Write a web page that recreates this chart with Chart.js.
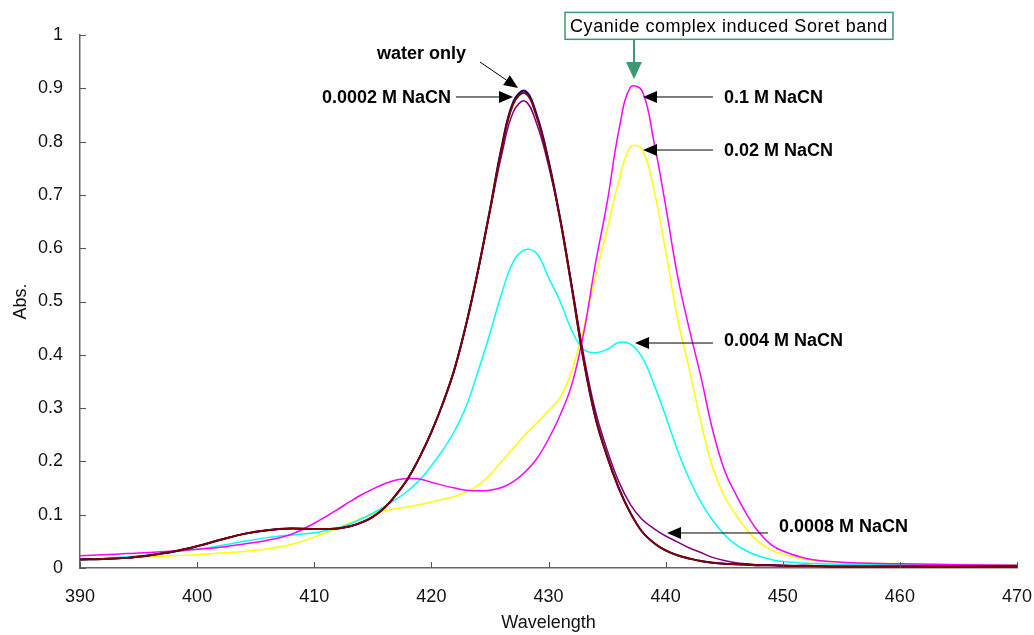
<!DOCTYPE html>
<html>
<head>
<meta charset="utf-8">
<title>Soret band absorbance</title>
<script src="https://cdn.jsdelivr.net/npm/chart.js@4.4.1/dist/chart.umd.min.js"></script>
<style>
  html, body { margin: 0; padding: 0; background: #fff; }
  #wrap { width: 1034px; height: 635px; }
</style>
</head>
<body>
<div id="wrap"><canvas id="spectra" width="1034" height="635"></canvas></div>
<script>
// wavelength grid (nm), denser around the Soret peaks
var wavelengths = [390, 392, 394, 396, 398, 400, 402, 404, 406, 408, 410, 412,
  413, 414, 415, 416, 417, 418, 419, 420, 421, 422, 423, 424, 425, 426, 427, 428, 429, 430,
  431, 432, 433, 434, 435, 436, 437, 438, 439, 440, 441, 442, 443, 444, 445, 446, 447, 448, 449, 450,
  452, 455, 460, 465, 470];

var waterOnly = [0.016, 0.017, 0.019, 0.024, 0.031, 0.041, 0.053, 0.064, 0.071, 0.074, 0.073, 0.074,
  0.078, 0.085, 0.096, 0.113, 0.138, 0.168, 0.208, 0.255, 0.31, 0.375, 0.46, 0.56, 0.672, 0.79, 0.875, 0.895, 0.85, 0.765,
  0.655, 0.525, 0.39, 0.283, 0.21, 0.15, 0.103, 0.068, 0.047, 0.033, 0.024, 0.018, 0.013, 0.010, 0.008, 0.007, 0.006, 0.005, 0.005, 0.004,
  0.004, 0.003, 0.003, 0.003, 0.003];

var nacn0002 = [0.016, 0.017, 0.019, 0.024, 0.031, 0.041, 0.053, 0.064, 0.071, 0.074, 0.073, 0.074,
  0.078, 0.085, 0.096, 0.113, 0.138, 0.168, 0.208, 0.255, 0.31, 0.375, 0.46, 0.56, 0.672, 0.787, 0.871, 0.891, 0.846, 0.762,
  0.653, 0.524, 0.39, 0.283, 0.21, 0.15, 0.103, 0.068, 0.047, 0.033, 0.024, 0.018, 0.013, 0.010, 0.008, 0.007, 0.006, 0.005, 0.005, 0.004,
  0.004, 0.003, 0.003, 0.003, 0.003];

var nacn0008 = [0.016, 0.017, 0.019, 0.024, 0.031, 0.041, 0.053, 0.064, 0.071, 0.074, 0.073, 0.074,
  0.078, 0.085, 0.096, 0.113, 0.138, 0.168, 0.208, 0.255, 0.31, 0.375, 0.46, 0.558, 0.668, 0.775, 0.856, 0.876, 0.833, 0.755,
  0.655, 0.53, 0.40, 0.295, 0.222, 0.162, 0.119, 0.091, 0.074, 0.06, 0.049, 0.038, 0.029, 0.02, 0.014, 0.010, 0.008, 0.006, 0.005, 0.005,
  0.004, 0.003, 0.003, 0.003, 0.003];

var nacn004 = [0.015, 0.018, 0.021, 0.025, 0.030, 0.035, 0.042, 0.050, 0.057, 0.062, 0.066, 0.075,
  0.082, 0.092, 0.103, 0.115, 0.129, 0.145, 0.165, 0.192, 0.222, 0.258, 0.305, 0.37, 0.44, 0.515, 0.575, 0.597, 0.59, 0.545,
  0.50, 0.445, 0.41, 0.404, 0.41, 0.423, 0.42, 0.395, 0.345, 0.285, 0.222, 0.168, 0.124, 0.09, 0.063, 0.044, 0.031, 0.022, 0.016, 0.012,
  0.009, 0.007, 0.006, 0.005, 0.005];

var nacn02 = [0.015, 0.017, 0.019, 0.021, 0.023, 0.025, 0.028, 0.031, 0.036, 0.044, 0.058, 0.075,
  0.084, 0.093, 0.101, 0.107, 0.111, 0.115, 0.119, 0.124, 0.129, 0.134, 0.143, 0.155, 0.175, 0.20, 0.225, 0.25, 0.272, 0.295,
  0.32, 0.37, 0.45, 0.545, 0.635, 0.725, 0.79, 0.785, 0.71, 0.595, 0.47, 0.375, 0.275, 0.19, 0.135, 0.10, 0.07, 0.048, 0.034, 0.026,
  0.016, 0.011, 0.008, 0.007, 0.006];

var nacn1 = [0.023, 0.025, 0.027, 0.029, 0.032, 0.035, 0.039, 0.045, 0.052, 0.063, 0.084, 0.110,
  0.124, 0.137, 0.148, 0.158, 0.165, 0.168, 0.167, 0.161, 0.155, 0.150, 0.146, 0.145, 0.146, 0.151, 0.162, 0.18, 0.205, 0.242,
  0.287, 0.345, 0.44, 0.57, 0.685, 0.82, 0.902, 0.895, 0.80, 0.68, 0.55, 0.45, 0.36, 0.26, 0.185, 0.138, 0.098, 0.066, 0.044, 0.032,
  0.018, 0.011, 0.008, 0.006, 0.005];

// callouts, anchored in data units (wavelength, absorbance)
var callouts = [
  { text: 'water only', x: 415.36, y: 0.9644, from: [424.15, 0.9493], to: [427.40, 0.9006] },
  { text: '0.0002 M NaCN', x: 410.66, y: 0.8818, from: [422.10, 0.8837], to: [426.97, 0.8837] },
  { text: '0.1 M NaCN', x: 444.98, y: 0.8824, from: [444.04, 0.8837], to: [438.07, 0.8837] },
  { text: '0.02 M NaCN', x: 444.98, y: 0.7829, from: [444.04, 0.7842], to: [438.07, 0.7842] },
  { text: '0.004 M NaCN', x: 444.98, y: 0.4265, from: [444.04, 0.4221], to: [437.39, 0.4221] },
  { text: '0.0008 M NaCN', x: 449.68, y: 0.0775, from: [448.74, 0.0657], to: [440.12, 0.0657] }
];
var soretNote = { text: 'Cyanide complex induced Soret band', x0: 431.41, x1: 459.41, y0: 1.0424, y1: 0.9919, tip: [437.30, 0.9174] };

function toPoints(values) {
  return values.map(function(v, i) { return { x: wavelengths[i], y: v }; });
}

function series(label, values, color, width) {
  return {
    label: label,
    data: toPoints(values),
    borderColor: color,
    borderWidth: width,
    pointRadius: 0,
    fill: false,
    tension: 0.4
  };
}

function drawArrow(ctx, x1, y1, x2, y2, color, lw, headLen, headHalf) {
  var a = Math.atan2(y2 - y1, x2 - x1);
  var c = Math.cos(a), s = Math.sin(a);
  ctx.strokeStyle = color;
  ctx.lineWidth = lw;
  ctx.beginPath();
  ctx.moveTo(x1, y1);
  ctx.lineTo(x2 - headLen * c, y2 - headLen * s);
  ctx.stroke();
  ctx.fillStyle = color;
  ctx.beginPath();
  ctx.moveTo(x2, y2);
  ctx.lineTo(x2 - headLen * c + headHalf * s, y2 - headLen * s - headHalf * c);
  ctx.lineTo(x2 - headLen * c - headHalf * s, y2 - headLen * s + headHalf * c);
  ctx.closePath();
  ctx.fill();
}

// short tick marks pointing into the plot
var inwardTicks = {
  id: 'inwardTicks',
  afterDraw: function(chart) {
    var ctx = chart.ctx, xs = chart.scales.x, ys = chart.scales.y;
    var area = chart.chartArea;
    ctx.save();
    ctx.strokeStyle = '#555';
    ctx.lineWidth = 1;
    ctx.beginPath();
    xs.ticks.forEach(function(t) {
      var px = Math.round(xs.getPixelForValue(t.value)) + 0.5;
      ctx.moveTo(px, area.bottom);
      ctx.lineTo(px, area.bottom - 6);
    });
    ys.ticks.forEach(function(t) {
      var py = Math.round(ys.getPixelForValue(t.value)) + 0.5;
      ctx.moveTo(area.left, py);
      ctx.lineTo(area.left + 6, py);
    });
    ctx.stroke();
    ctx.restore();
  }
};

var labelsPlugin = {
  id: 'callouts',
  afterDraw: function(chart) {
    var ctx = chart.ctx, xs = chart.scales.x, ys = chart.scales.y;
    ctx.save();
    ctx.font = 'bold 18px "Liberation Sans", Arial, sans-serif';
    ctx.textBaseline = 'middle';
    ctx.textAlign = 'left';
    callouts.forEach(function(c) {
      ctx.fillStyle = '#000';
      ctx.fillText(c.text, xs.getPixelForValue(c.x), ys.getPixelForValue(c.y));
      drawArrow(ctx,
        xs.getPixelForValue(c.from[0]), ys.getPixelForValue(c.from[1]),
        xs.getPixelForValue(c.to[0]), ys.getPixelForValue(c.to[1]),
        '#000', 1, 14, 6);
    });

    // boxed note with the green arrow
    var bx0 = xs.getPixelForValue(soretNote.x0), bx1 = xs.getPixelForValue(soretNote.x1);
    var by0 = ys.getPixelForValue(soretNote.y0), by1 = ys.getPixelForValue(soretNote.y1);
    ctx.fillStyle = '#fff';
    ctx.fillRect(bx0, by0, bx1 - bx0, by1 - by0);
    ctx.strokeStyle = '#3d9970';
    ctx.lineWidth = 1.5;
    ctx.strokeRect(bx0, by0, bx1 - bx0, by1 - by0);
    ctx.fillStyle = '#000';
    ctx.font = '18px "Liberation Sans", Arial, sans-serif';
    ctx.letterSpacing = '0.55px';
    ctx.textAlign = 'center';
    ctx.fillText(soretNote.text, (bx0 + bx1) / 2, (by0 + by1) / 2 + 1);
    ctx.letterSpacing = '0px';
    var tx = xs.getPixelForValue(soretNote.tip[0]);
    drawArrow(ctx, tx, by1, tx, ys.getPixelForValue(soretNote.tip[1]), '#3d9970', 2, 17, 8);
    ctx.restore();
  }
};

var tickFont = { family: '"Liberation Sans", Arial, sans-serif', size: 18 };

new Chart(document.getElementById('spectra'), {
  type: 'line',
  data: {
    datasets: [
      series('0.0002 M NaCN', nacn0002, '#800000', 2),
      series('water only', waterOnly, '#000080', 2),
      series('0.0008 M NaCN', nacn0008, '#800080', 1.5),
      series('0.1 M NaCN', nacn1, '#ff00ff', 1.5),
      series('0.004 M NaCN', nacn004, '#00ffff', 1.5),
      series('0.02 M NaCN', nacn02, '#ffff00', 1.5)
    ]
  },
  options: {
    responsive: false,
    animation: false,
    layout: { padding: { top: 35, right: 17, left: 0, bottom: 0 } },
    plugins: { legend: { display: false }, tooltip: { enabled: false } },
    scales: {
      x: {
        type: 'linear',
        min: 390,
        max: 470,
        ticks: { stepSize: 10, color: '#111', font: tickFont, padding: 18, maxRotation: 0 },
        grid: { display: false, drawTicks: false },
        border: { color: '#666', width: 1.5 },
        title: { display: true, text: 'Wavelength', color: '#111', font: tickFont, padding: { top: 0, bottom: 1 } },
        afterFit: function(scale) {
          scale.height = 67;
          // end labels may overhang; the layout padding already leaves room
          scale.paddingLeft = 0;
          scale.paddingRight = 0;
        }
      },
      y: {
        min: 0,
        max: 1,
        ticks: {
          stepSize: 0.1,
          color: '#111',
          font: tickFont,
          padding: 17,
          callback: function(v) { return String(Number(v.toFixed(1))); }
        },
        grid: { display: false, drawTicks: false },
        border: { color: '#666', width: 1.5 },
        title: { display: true, text: 'Abs.', color: '#111', font: tickFont, padding: { top: 10, bottom: 0 } },
        afterFit: function(scale) { scale.width = 80; }
      }
    }
  },
  plugins: [inwardTicks, labelsPlugin]
});
</script>
</body>
</html>
